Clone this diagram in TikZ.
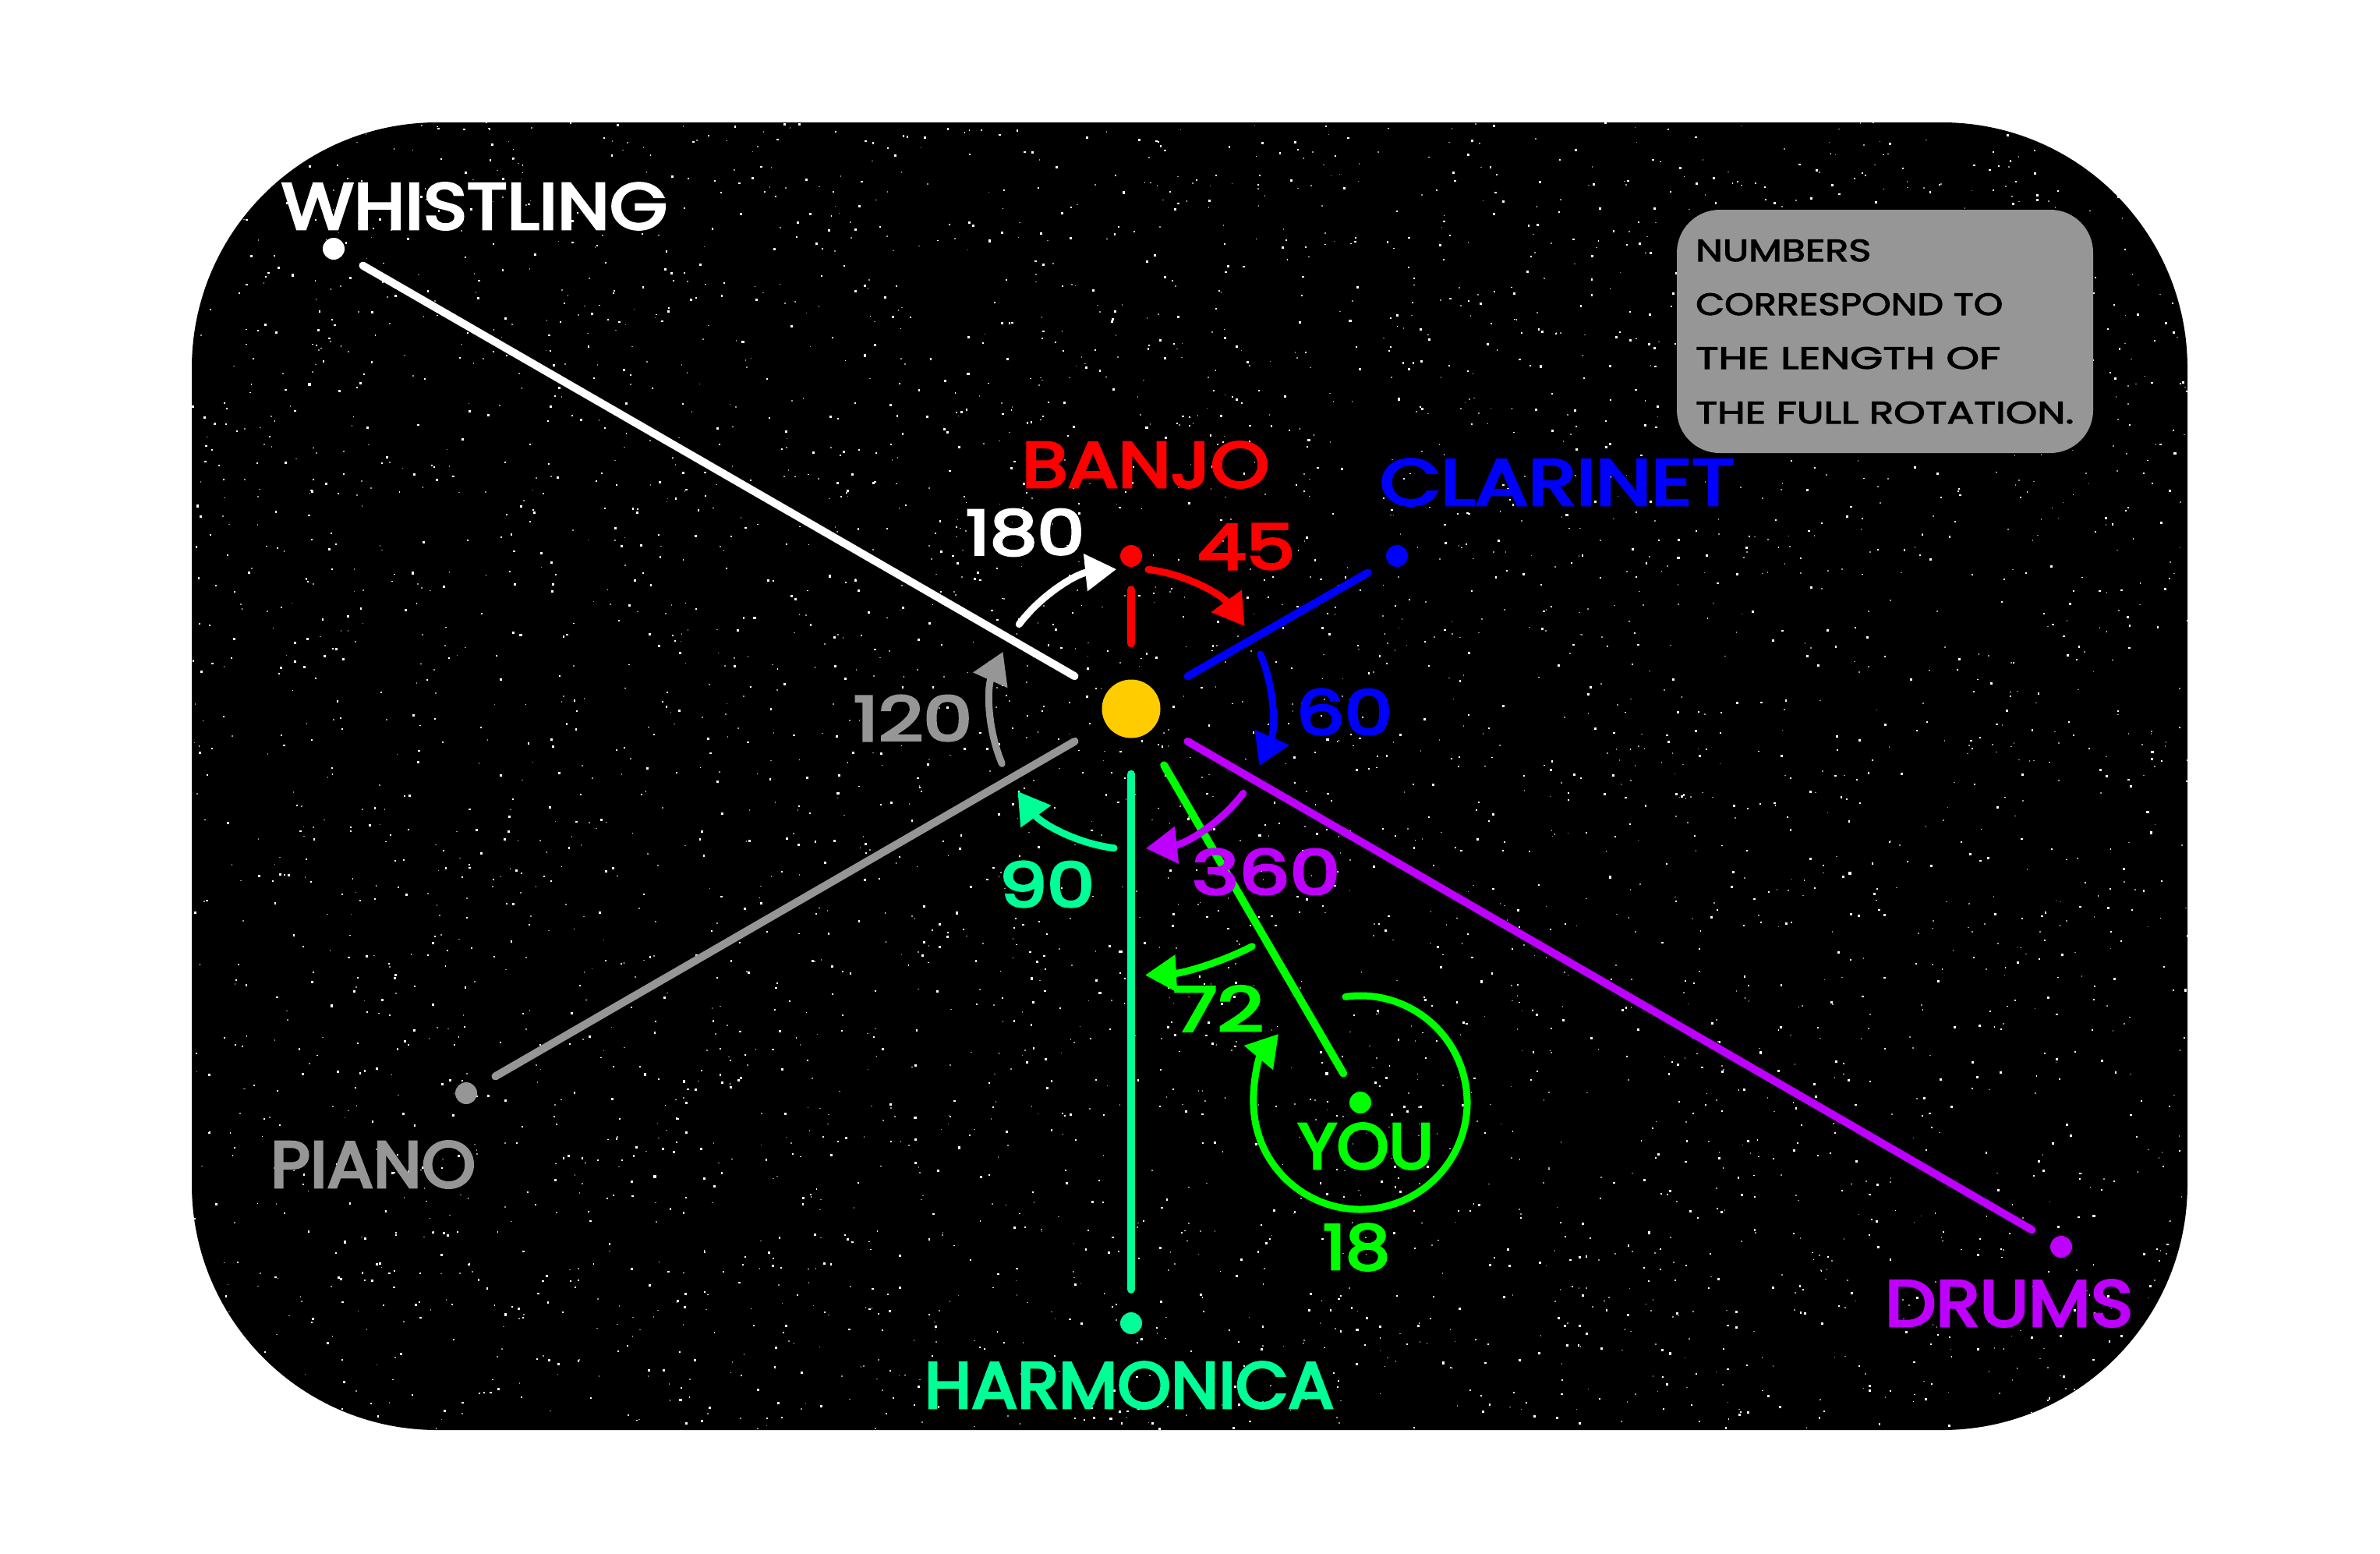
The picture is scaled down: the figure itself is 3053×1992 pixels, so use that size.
\documentclass[tikz,border=0pt]{standalone}
\usepackage{fontspec}
\usepackage{graphicx}
\usetikzlibrary{arrows.meta}
\newfontfamily\lblfont{Poppins}[FakeBold=4]
\newfontfamily\notefont{Poppins}[FakeBold=2.5]
\definecolor{cRed}{RGB}{255,0,0}
\definecolor{cBlue}{RGB}{0,0,255}
\definecolor{cPurple}{RGB}{190,0,255}
\definecolor{cHarm}{RGB}{0,255,150}
\definecolor{cGreen}{RGB}{0,255,0}
\definecolor{cGray}{RGB}{150,150,150}
\definecolor{cSun}{RGB}{255,204,0}
\newcommand\fitlbl[3]{\resizebox{#1}{#2}{\lblfont #3}}
\newcommand\fitnote[3]{\resizebox{#1}{#2}{\notefont #3}}
\begin{document}
\begin{tikzpicture}[x=1pt,y=1pt,
  dot/.style={circle,fill=#1,minimum size=28pt,inner sep=0pt},
  orbit/.style={draw=#1,line width=10pt,line cap=round,shorten <=46pt,shorten >=29pt},
  rot/.style={draw=#1,line width=9pt,line cap=round,-{Triangle[length=40pt,width=46pt]}},
  lbl/.style={text=#1,inner sep=0pt}]
\fill[white] (0,0) rectangle (3053,-1992);
\useasboundingbox (0,0) rectangle (3053,-1992);
\fill[black, rounded corners=315pt] (246,-157) rectangle (2806,-1834);
\begin{scope}
\clip[rounded corners=315pt] (246,-157) rectangle (2806,-1834);
\pgfmathsetseed{20}
\foreach \i in {1,...,2800}{
  \pgfmathsetmacro\sx{246+2560*rnd}
  \pgfmathsetmacro\sy{-157-1677*rnd}
  \pgfmathsetmacro\ss{1.4+1.8*rnd}
  \fill[white] (\sx,\sy) rectangle ++(\ss,\ss);
}
\foreach \i in {1,...,1800}{
  \pgfmathsetmacro\sx{246+2560*rnd}
  \pgfmathsetmacro\sy{-157-1677*rnd}
  \fill[white!60!black] (\sx,\sy) rectangle ++(1.6,1.6);
}
\end{scope}
% sun and planets
\node[circle,fill=cSun,minimum size=75pt,inner sep=0pt] (sun) at (1451,-909) {};
\node[dot=white] (whistling) at (428,-319) {};
\node[dot=cRed] (banjo) at (1451,-713) {};
\node[dot=cBlue] (clarinet) at (1792,-713) {};
\node[dot=cPurple] (drums) at (2644,-1599) {};
\node[dot=cHarm] (harmonica) at (1451,-1697) {};
\node[dot=cGray] (piano) at (598,-1402) {};
\node[dot=cGreen] (you) at (1745,-1414) {};
% radial lines
\draw[orbit=white] (sun) -- (whistling);
\draw[orbit=cRed] (sun) -- (banjo);
\draw[orbit=cBlue] (sun) -- (clarinet);
\draw[orbit=cPurple] (sun) -- (drums);
\draw[orbit=cHarm] (sun) -- (harmonica);
\draw[orbit=cGray] (sun) -- (piano);
\draw[orbit=cGreen] (sun) -- (you);
% rotation arrows
\draw[rot=white] ([shift={(143:180)}]sun.center) arc[start angle=143,end angle=96,radius=180];
\draw[rot=cRed] ([shift={(83:180)}]sun.center) arc[start angle=83,end angle=36,radius=180];
\draw[rot=cBlue] ([shift={(23:180)}]sun.center) arc[start angle=23,end angle=-24,radius=180];
\draw[rot=cPurple] ([shift={(-37:180)}]sun.center) arc[start angle=-37,end angle=-84,radius=180];
\draw[rot=cHarm] ([shift={(-97:180)}]sun.center) arc[start angle=-97,end angle=-144,radius=180];
\draw[rot=cGray] ([shift={(203:180)}]sun.center) arc[start angle=203,end angle=156,radius=180];
\draw[rot=cGreen] ([shift={(-63:342)}]sun.center) arc[start angle=-63,end angle=-87,radius=342];
\draw[rot=cGreen] ([shift={(98:137)}]you.center) arc[start angle=98,end angle=-220,radius=137];
% labels
\node[lbl=white] (lwhistling) at (608.5,-264.5) {\fitlbl{495pt}{59pt}{WHISTLING}};
\node[lbl=cRed] (lbanjo) at (1469.5,-596) {\fitlbl{317pt}{58pt}{BANJO}};
\node[lbl=cBlue] (lclarinet) at (1997.5,-618.5) {\fitlbl{455pt}{59pt}{CLARINET}};
\node[lbl=cPurple] (ldrums) at (2577,-1671.5) {\fitlbl{318pt}{59pt}{DRUMS}};
\node[lbl=cHarm] (lharmonica) at (1448.5,-1776.5) {\fitlbl{525pt}{59pt}{HARMONICA}};
\node[lbl=cGray] (lpiano) at (478.5,-1493.5) {\fitlbl{263pt}{59pt}{PIANO}};
\node[lbl=cGreen] (lyou) at (1752,-1470) {\fitlbl{174pt}{58pt}{YOU}};
\node[lbl=white] (l180) at (1315,-683) {\fitlbl{152pt}{58pt}{180}};
\node[lbl=cRed] (l45) at (1598.5,-701) {\fitlbl{125pt}{58pt}{45}};
\node[lbl=cBlue] (l60) at (1724.5,-913) {\fitlbl{123pt}{58pt}{60}};
\node[lbl=cGray] (l120) at (1171,-921) {\fitlbl{152pt}{58pt}{120}};
\node[lbl=cHarm] (l90) at (1343,-1134) {\fitlbl{122pt}{58pt}{90}};
\node[lbl=cPurple] (l360) at (1624,-1118) {\fitlbl{190pt}{58pt}{360}};
\node[lbl=cGreen] (l72) at (1563,-1293.5) {\fitlbl{116pt}{58pt}{72}};
\node[lbl=cGreen] (l18) at (1740,-1599.5) {\fitlbl{86pt}{58pt}{18}};
% note box
\node[fill=cGray, rounded corners=55pt, minimum width=534pt, minimum height=312pt, inner sep=0pt] (note) at (2418,-425) {};
\node[lbl=black, anchor=base west] (n1) at (2175,-335) {\fitnote{225pt}{28pt}{NUMBERS}};
\node[lbl=black, anchor=base west] (n2) at (2175,-404) {\fitnote{394pt}{28pt}{CORRESPOND TO}};
\node[lbl=black, anchor=base west] (n3) at (2175,-473) {\fitnote{391pt}{28pt}{THE LENGTH OF}};
\node[lbl=black, anchor=base west] (n4) at (2175,-543) {\fitnote{485pt}{28pt}{THE FULL ROTATION.}};
\end{tikzpicture}
\end{document}
